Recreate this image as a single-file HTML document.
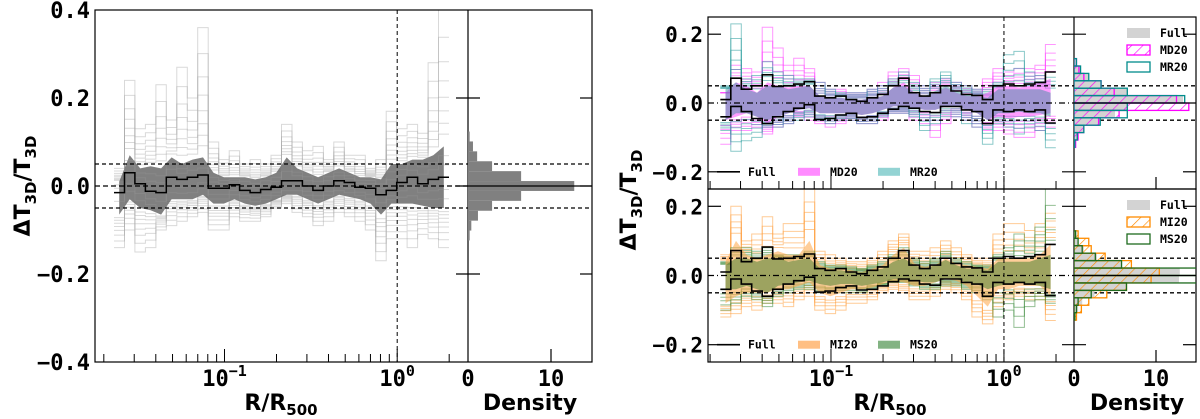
<!DOCTYPE html>
<html><head><meta charset="utf-8"><style>
html,body{margin:0;padding:0;background:#fff;}
svg{display:block;}
.tk{font-family:"DejaVu Sans Mono","Liberation Mono",monospace;font-weight:bold;}
.lb{font-family:"DejaVu Sans","Liberation Sans",sans-serif;font-weight:bold;}
</style></head><body>
<svg id="fig" width="1200" height="419" viewBox="0 0 1200 419" xmlns="http://www.w3.org/2000/svg">
<defs>
<pattern id="hatchM" patternUnits="userSpaceOnUse" width="8" height="8" patternTransform="rotate(45)"><line x1="0" y1="0" x2="0" y2="8" stroke="#ff00ff" stroke-width="1.3"/></pattern>
<pattern id="hatchO" patternUnits="userSpaceOnUse" width="8" height="8" patternTransform="rotate(45)"><line x1="0" y1="0" x2="0" y2="8" stroke="#ff8c00" stroke-width="1.3"/></pattern>
<clipPath id="cL"><rect x="95" y="10" width="373" height="352"/></clipPath>
<clipPath id="cLH"><rect x="468" y="10" width="124" height="352"/></clipPath>
<clipPath id="cT"><rect x="708" y="17" width="366" height="172"/></clipPath>
<clipPath id="cB"><rect x="708" y="189" width="366" height="173"/></clipPath>
<clipPath id="cTH"><rect x="1074" y="17" width="122" height="172"/></clipPath>
<clipPath id="cBH"><rect x="1074" y="189" width="122" height="173"/></clipPath>
</defs>
</svg>
<script>
// ---- data ----
const binLogLo = -1.64, binLogHi = 0.30, nBins = 32;
// left panel
const leftMedian = [-0.015,0.03,0.005,-0.012,-0.015,0.02,0.015,0.02,0.025,-0.005,-0.005,0.003,-0.01,-0.015,-0.008,-0.003,0.012,0.012,0.0,-0.01,0.0,0.012,0.008,-0.003,-0.005,-0.02,-0.01,0.008,0.02,0.005,0.015,0.02];
const leftBandHi = [0.01,0.07,0.04,0.045,0.04,0.065,0.05,0.06,0.065,0.03,0.02,0.02,0.02,0.015,0.02,0.03,0.065,0.04,0.03,0.02,0.03,0.04,0.03,0.02,0.02,0.015,0.05,0.05,0.06,0.06,0.07,0.09];
const leftBandLo = [-0.065,-0.03,-0.05,-0.055,-0.065,-0.03,-0.03,-0.03,-0.02,-0.04,-0.04,-0.03,-0.04,-0.045,-0.04,-0.03,-0.02,-0.02,-0.03,-0.04,-0.03,-0.02,-0.025,-0.03,-0.04,-0.065,-0.04,-0.04,-0.04,-0.045,-0.05,-0.05];
const leftOuterHi = [0.04,0.24,0.13,0.14,0.23,0.15,0.27,0.2,0.36,0.1,0.06,0.08,0.05,0.06,0.05,0.07,0.14,0.1,0.08,0.09,0.06,0.1,0.07,0.07,0.04,0.06,0.17,0.13,0.14,0.12,0.28,0.4];
const leftOuterLo = [-0.14,-0.1,-0.15,-0.14,-0.1,-0.09,-0.08,-0.07,-0.06,-0.1,-0.1,-0.07,-0.08,-0.08,-0.07,-0.05,-0.04,-0.06,-0.07,-0.09,-0.08,-0.06,-0.07,-0.08,-0.1,-0.17,-0.12,-0.12,-0.14,-0.11,-0.12,-0.14];
const leftHistCenters = [-0.1125,-0.09,-0.0675,-0.045,-0.0225,0,0.0225,0.045,0.0675,0.09,0.1125];
const leftHistValues = [0.2,0.4,1.2,2.9,6.4,12.8,6.4,2.9,1.1,0.6,0.2];
// right panels: Full band edges
const fullHi = [0.01,0.072,0.04,0.05,0.082,0.048,0.05,0.055,0.062,0.02,0.015,0.02,0.01,0.005,0.015,0.025,0.05,0.072,0.03,0.02,0.03,0.05,0.035,0.025,0.022,0.01,0.05,0.055,0.05,0.055,0.06,0.09];
const fullLo = [-0.04,-0.01,-0.025,-0.045,-0.06,-0.04,-0.025,-0.015,-0.005,-0.048,-0.045,-0.035,-0.03,-0.042,-0.04,-0.03,-0.018,-0.01,-0.015,-0.025,-0.028,-0.01,-0.01,-0.02,-0.025,-0.06,-0.02,-0.025,-0.02,-0.025,-0.02,-0.058];
// top: MD20 / MR20
const mdHi = [0.03,0.06,0.05,0.03,0.06,0.05,0.045,0.05,0.05,0.02,0.015,0.015,0.01,0.01,0.015,0.02,0.045,0.06,0.03,0.02,0.03,0.045,0.03,0.02,0.02,0.03,0.05,0.05,0.045,0.05,0.06,0.07];
const mdLo = [-0.05,-0.04,-0.03,-0.04,-0.06,-0.04,-0.03,-0.02,-0.015,-0.03,-0.03,-0.03,-0.03,-0.035,-0.03,-0.02,-0.01,-0.01,-0.015,-0.02,-0.02,-0.01,-0.01,-0.02,-0.03,-0.05,-0.04,-0.045,-0.04,-0.04,-0.035,-0.03];
const mrHi = [0.04,0.06,0.04,0.03,0.05,0.05,0.04,0.045,0.05,0.02,0.015,0.015,0.01,0.01,0.015,0.02,0.045,0.05,0.03,0.02,0.035,0.05,0.035,0.025,0.02,0.015,0.04,0.04,0.04,0.04,0.04,0.03];
const mrLo = [-0.05,-0.03,-0.03,-0.04,-0.05,-0.04,-0.03,-0.02,-0.015,-0.03,-0.03,-0.03,-0.03,-0.035,-0.03,-0.02,-0.01,-0.01,-0.015,-0.02,-0.02,-0.01,-0.01,-0.02,-0.03,-0.05,-0.03,-0.03,-0.025,-0.03,-0.03,-0.04];
const mdMax = [0.03,0.11,0.1,0.09,0.22,0.16,0.11,0.13,0.1,0.06,0.04,0.04,0.03,0.03,0.04,0.06,0.09,0.1,0.08,0.05,0.06,0.07,0.06,0.05,0.04,0.07,0.1,0.09,0.1,0.1,0.11,0.17];
const mdMin = [-0.12,-0.08,-0.08,-0.07,-0.09,-0.07,-0.06,-0.04,-0.05,-0.06,-0.07,-0.06,-0.05,-0.06,-0.06,-0.05,-0.03,-0.03,-0.05,-0.06,-0.1,-0.06,-0.04,-0.05,-0.07,-0.08,-0.08,-0.09,-0.1,-0.1,-0.08,-0.07];
const mrMax = [0.05,0.23,0.07,0.08,0.12,0.09,0.08,0.07,0.07,0.06,0.04,0.03,0.03,0.03,0.04,0.05,0.07,0.09,0.06,0.05,0.07,0.09,0.06,0.05,0.04,0.04,0.06,0.14,0.15,0.09,0.08,0.09];
const mrMin = [-0.08,-0.14,-0.11,-0.1,-0.07,-0.07,-0.06,-0.05,-0.04,-0.05,-0.06,-0.05,-0.05,-0.06,-0.06,-0.04,-0.03,-0.03,-0.04,-0.08,-0.06,-0.04,-0.04,-0.06,-0.07,-0.12,-0.06,-0.07,-0.09,-0.07,-0.08,-0.13];
// bottom: MI20 / MS20
const miHi = [0.04,0.1,0.06,0.05,0.06,0.07,0.06,0.06,0.1,0.03,0.02,0.02,0.015,0.01,0.02,0.03,0.06,0.08,0.035,0.025,0.03,0.05,0.035,0.03,0.025,0.02,0.05,0.05,0.05,0.05,0.06,0.09];
const miLo = [-0.08,-0.06,-0.05,-0.05,-0.05,-0.04,-0.04,-0.03,-0.02,-0.05,-0.06,-0.05,-0.04,-0.04,-0.035,-0.025,-0.015,-0.02,-0.03,-0.03,-0.02,-0.01,-0.015,-0.03,-0.06,-0.09,-0.04,-0.04,-0.03,-0.03,-0.03,-0.06];
const msHi = [0.03,0.05,0.05,0.04,0.05,0.05,0.04,0.045,0.05,0.02,0.015,0.015,0.01,0.01,0.015,0.02,0.04,0.05,0.03,0.02,0.03,0.045,0.03,0.02,0.02,0.015,0.04,0.04,0.04,0.04,0.05,0.06];
const msLo = [-0.04,-0.04,-0.03,-0.04,-0.05,-0.03,-0.025,-0.02,-0.015,-0.025,-0.03,-0.025,-0.025,-0.03,-0.025,-0.02,-0.01,-0.01,-0.015,-0.02,-0.02,-0.01,-0.01,-0.02,-0.025,-0.04,-0.03,-0.025,-0.02,-0.025,-0.03,-0.04];
const miMax = [0.06,0.2,0.1,0.12,0.17,0.12,0.15,0.15,0.25,0.07,0.06,0.05,0.04,0.04,0.05,0.07,0.1,0.12,0.07,0.07,0.08,0.1,0.08,0.06,0.05,0.05,0.12,0.15,0.15,0.13,0.15,0.18];
const miMin = [-0.12,-0.11,-0.09,-0.1,-0.08,-0.08,-0.09,-0.07,-0.06,-0.1,-0.11,-0.1,-0.08,-0.08,-0.07,-0.05,-0.04,-0.05,-0.07,-0.07,-0.06,-0.04,-0.05,-0.07,-0.12,-0.14,-0.09,-0.07,-0.06,-0.07,-0.07,-0.13];
const msMax = [0.04,0.08,0.08,0.07,0.08,0.06,0.06,0.06,0.07,0.04,0.03,0.03,0.025,0.02,0.03,0.04,0.06,0.08,0.05,0.04,0.05,0.07,0.05,0.04,0.03,0.03,0.06,0.08,0.12,0.1,0.14,0.25];
const msMin = [-0.1,-0.08,-0.06,-0.07,-0.09,-0.06,-0.05,-0.04,-0.04,-0.05,-0.05,-0.05,-0.05,-0.05,-0.04,-0.03,-0.02,-0.02,-0.03,-0.04,-0.04,-0.03,-0.03,-0.04,-0.05,-0.07,-0.12,-0.1,-0.15,-0.09,-0.07,-0.08];
// right histograms
const rHistCenters = [-0.1183,-0.0968,-0.0753,-0.0538,-0.0323,-0.0108,0.0108,0.0323,0.0538,0.0753,0.0968,0.1183];
const topFullHist = [0.2,0.5,1.2,3.2,5,6.5,13.3,6.5,3.3,1.8,0.8,0.3];
const topMDHist = [0.2,0.5,1.2,3,5.5,14,12.5,4.9,3.3,1.2,0.6,0.3];
const topMRHist = [0.1,0.4,1.2,3.2,6.5,6.5,13.5,6.5,3.3,1.8,0.8,0.3];
const botFullHist = [0.2,0.5,1,2.5,6.4,12.8,12.9,5.8,2.8,1.2,0.5,0.2];
const botMIHist = [0.3,0.9,1.8,4,6.4,9.4,10.4,7,3.8,2.1,1.8,0.5];
const botMSHist = [0.1,0.3,0.5,2.1,6.4,15.5,16,5.8,2.6,1,0.5,0.2];
const yTicksLeft = [0.4,0.2,0.0,-0.2,-0.4];
const yTicksRight = [0.2,0.0,-0.2];
const densTicks = [0,10];

// ---- drawing ----
const NS = "http://www.w3.org/2000/svg";
const svg = document.getElementById('fig');
function mk(tag, attrs, parent){ const e=document.createElementNS(NS,tag); for(const k in attrs) e.setAttribute(k,attrs[k]); (parent||svg).appendChild(e); return e; }
function grp(name, clip){ const g=mk('g', clip?{'clip-path':'url(#'+clip+')'}:{});
  
  
  return g; }

const LP = {x0:95,x1:468,y0:10,y1:362,ymin:-0.4,ymax:0.4,lmin:-1.75,lmax:0.41};
const TP = {x0:708,x1:1074,y0:17,y1:189,ymin:-0.25,ymax:0.25,lmin:-1.711,lmax:0.405};
const BP = {x0:708,x1:1074,y0:189,y1:362,ymin:-0.25,ymax:0.25,lmin:-1.711,lmax:0.405};
const LH = {x0:468,x1:592,dmax:(592-468)/8.3};
const TH = {x0:1074,x1:1196,dmax:(1196-1074)/8.2};
function fx(p,l){ return p.x0+(l-p.lmin)/(p.lmax-p.lmin)*(p.x1-p.x0); }
function fy(p,v){ return p.y1-(v-p.ymin)/(p.ymax-p.ymin)*(p.y1-p.y0); }
function fd(h,d){ return h.x0+d/h.dmax*(h.x1-h.x0); }
const edges = []; for(let i=0;i<=nBins;i++) edges.push(binLogLo+(binLogHi-binLogLo)*i/nBins);
const centers = []; for(let i=0;i<nBins;i++) centers.push((edges[i]+edges[i+1])/2);

function stepPath(p, vals){
  let d='';
  vals.forEach((v,i)=>{ const y=fy(p,v).toFixed(1); d+=(i?'L':'M')+fx(p,edges[i]).toFixed(1)+','+y+'L'+fx(p,edges[i+1]).toFixed(1)+','+y; });
  return d;
}
function bandPath(p, hi, lo){
  let d='';
  hi.forEach((v,i)=>{ d+=(i?'L':'M')+fx(p,centers[i]).toFixed(1)+','+fy(p,v).toFixed(1); });
  for(let i=lo.length-1;i>=0;i--) d+='L'+fx(p,centers[i]).toFixed(1)+','+fy(p,lo[i]).toFixed(1);
  return d+'Z';
}
function blend(a,b,f){ return a.map((v,i)=>b[i]+(v-b[i])*f); }
function envelopeLines(g,p,outHi,outLo,bHi,bLo,color,op,name,fracs){
  fracs.forEach(f=>{
    [blend(outHi,bHi,f),blend(outLo,bLo,f)].forEach(vals=>{
      const e=mk('path',{d:stepPath(p,vals),fill:'none',stroke:color,'stroke-width':1,'stroke-opacity':op},g);
      
      
    });
  });
}
function txt(x,y,s,cls,size,anchor,name,parent){
  const t=mk('text',{x:x,y:y,'class':cls,'font-size':size,'text-anchor':anchor||'middle',fill:'#000'},parent);
  t.textContent=s;
  
  
  return t;
}
function line(x1,y1,x2,y2,w,dash,parent,color){ return mk('line',{x1:x1,y1:y1,x2:x2,y2:y2,stroke:color||'#000','stroke-width':w,'stroke-dasharray':dash||'none'},parent); }

function xTicks(p,g){
  for(let e=-2;e<=0;e++) for(let m=1;m<=9;m++){
    const l=e+Math.log10(m); if(l<p.lmin||l>p.lmax) continue;
    const x=fx(p,l); line(x,p.y1,x,p.y1-(m===1?13:8),1,null,g);
  }
}
function xTickLabels(p,g,y){
  [-1,0].forEach(e=>{
    const t=txt(fx(p,e),y,'10','tk',22,'middle','x-tick-label',g);
    const s=mk('tspan',{dy:-10,'font-size':15},t); s.textContent=e<0?'−1':'0';
  });
}
function xTitle(x,g){
  const t=txt(x,410,'R/R','lb',22,'middle','x-axis-title',g);
  const s=mk('tspan',{dy:5,'font-size':15},t); s.textContent='500';
}
function yTitle(x,y,g){
  const yl=txt(0,0,'ΔT','lb',22,'middle','y-axis-title',g); yl.setAttribute('transform','translate('+x+','+y+') rotate(-90)');
  [['3D',6],['/T',-6],['3D',6]].forEach(([s,dy],i)=>{ const t=mk('tspan',{dy:dy,'font-size':i===1?22:15},yl); t.textContent=s; });
}
function hist(g,h,p,centersArr,vals,width,style,name){
  vals.forEach((v,i)=>{
    const yt=fy(p,centersArr[i]+width/2), yb=fy(p,centersArr[i]-width/2);
    const r=mk('rect',Object.assign({x:h.x0,y:yt,width:Math.max(0,fd(h,v)-h.x0),height:yb-yt},style),g);
    
    
  });
}

// ===== LEFT =====
{
  const g=grp('left-main-plot','cL');
  envelopeLines(g,LP,leftOuterHi,leftOuterLo,leftBandHi,leftBandLo,'#aaa',0.45,'individual-profile',[1,0.8,0.62,0.48,0.36,0.26,0.17,0.09]);
  const b=mk('path',{d:bandPath(LP,leftBandHi,leftBandLo),fill:'#606060','fill-opacity':0.8},g);
  
  
  envelopeLines(g,LP,leftBandHi,leftBandLo,leftMedian,leftMedian,'#999',0.35,'inner-profile',[0.7,0.4]);
  line(LP.x0,fy(LP,0.05),LH.x1,fy(LP,0.05),1.3,'4,3',svg);
  line(LP.x0,fy(LP,-0.05),LH.x1,fy(LP,-0.05),1.3,'4,3',svg);
  line(LP.x0,fy(LP,0),LP.x1,fy(LP,0),1.2,'5,3',g);
  const m=mk('path',{d:stepPath(LP,leftMedian),fill:'none',stroke:'#000','stroke-width':1.5},g);
  
  
  line(fx(LP,0),LP.y0,fx(LP,0),LP.y1,1,'4,3',g);
  const ax=grp('left-axes');
  mk('rect',{x:LP.x0,y:LP.y0,width:LH.x1-LP.x0,height:LP.y1-LP.y0,fill:'none',stroke:'#000','stroke-width':1.2},ax);
  line(LP.x1,LP.y0,LP.x1,LP.y1,1.2,null,ax);
  xTicks(LP,ax); xTickLabels(LP,ax,386);
  yTicksLeft.forEach(v=>{ const y=fy(LP,v); txt(90,y+8,(v<0?'−':'')+Math.abs(v).toFixed(1),'tk',22,'end','y-tick-label',ax);
    if(Math.abs(v)<0.39){ line(LP.x1-12,y,LP.x1+12,y,1.2,null,ax); line(LH.x1-12,y,LH.x1,y,1.2,null,ax);} });
  xTitle(281,ax);
  yTitle(30,186,ax);
  const hg=grp('left-density-hist','cLH');
  hist(hg,LH,LP,leftHistCenters,leftHistValues,0.0225,{fill:'#808080'},'hist-bar');
  line(LH.x0,fy(LP,0),LH.x1,fy(LP,0),1.3,null,hg);
  densTicks.forEach(d=>{ const x=fd(LH,d); if(d>0) line(x,LP.y1,x,LP.y1-13,1.2,null,ax); txt(x,386,String(d),'tk',22,'middle','density-tick-label',ax); });
  txt(530,410,'Density','lb',22,'middle','density-axis-title',ax);
}

// ===== RIGHT =====
function rightPanel(p, clip, hclip, name, A, B, fillA, fillB, histFull, histA, histB, hatch, labA, labB, legA, legB, strokeA, strokeB, lightA, lightB){
  const g=grp(name+'-plot',clip);
  envelopeLines(g,p,A.max,A.min,A.hi,A.lo,lightA,0.55,labA+'-profile',[1,0.75,0.55,0.38,0.22]);
  envelopeLines(g,p,B.max,B.min,B.hi,B.lo,lightB,0.55,labB+'-profile',[1,0.75,0.55,0.38,0.22]);
  const ba=mk('path',{d:bandPath(p,A.hi,A.lo),fill:fillA},g);
  
  
  const bb=mk('path',{d:bandPath(p,B.hi,B.lo),fill:fillB},g);
  
  
  const f1=mk('path',{d:stepPath(p,fullHi),fill:'none',stroke:'#000','stroke-width':1.6},g);
  
  
  const f2=mk('path',{d:stepPath(p,fullLo),fill:'none',stroke:'#000','stroke-width':1.6},g);
  
  
  line(p.x0,fy(p,0),p.x1,fy(p,0),1.2,'6,3,1,3',g);
  line(fx(p,0),p.y0,fx(p,0),p.y1,1,'4,3',g);
  line(p.x0,fy(p,0.05),TH.x1,fy(p,0.05),1.3,'4,3',svg);
  line(p.x0,fy(p,-0.05),TH.x1,fy(p,-0.05),1.3,'4,3',svg);
  const ax=grp(name+'-axes');
  mk('rect',{x:p.x0,y:p.y0,width:TH.x1-p.x0,height:p.y1-p.y0,fill:'none',stroke:'#000','stroke-width':1.2},ax);
  line(p.x1,p.y0,p.x1,p.y1,1.2,null,ax);
  xTicks(p,ax);
  yTicksRight.forEach(v=>{ const y=fy(p,v); txt(703,y+8,(v<0?'−':'')+Math.abs(v).toFixed(1),'tk',21,'end','y-tick-label',ax);
    if(v!==0){ line(p.x0,y,p.x0+13,y,1.2,null,ax); line(p.x1-12,y,p.x1+12,y,1.2,null,ax); line(TH.x1-13,y,TH.x1,y,1.2,null,ax);} });
  const lg=grp(name+'-legend');
  const ly=fy(p,-0.2);
  line(717,ly,740,ly,1.6,null,lg); txt(748,ly+4,'Full','tk',11.5,'start','legend-full',lg);
  mk('rect',{x:798,y:ly-4,width:22,height:8,fill:legA},lg); txt(830,ly+4,labA,'tk',11.5,'start','legend-'+labA.toLowerCase(),lg);
  mk('rect',{x:878,y:ly-4,width:22,height:8,fill:legB},lg); txt(910,ly+4,labB,'tk',11.5,'start','legend-'+labB.toLowerCase(),lg);
  const hg=grp(name+'-density-hist',hclip);
  hist(hg,TH,p,rHistCenters,histFull,0.0215,{fill:'#d3d3d3'},'hist-full');
  hist(hg,TH,p,rHistCenters,histA,0.0215,{fill:'url(#'+hatch+')',stroke:strokeA,'stroke-width':1.3},'hist-'+labA.toLowerCase());
  hist(hg,TH,p,rHistCenters,histB,0.0215,{fill:'none',stroke:strokeB,'stroke-width':1.3},'hist-'+labB.toLowerCase());
  line(TH.x0,fy(p,0),TH.x1,fy(p,0),1.3,null,hg);
  line(fd(TH,10),p.y1,fd(TH,10),p.y1-12,1.2,null,ax);
  const hl=grp(name+'-hist-legend');
  const y0=p.y0+16;
  mk('rect',{x:1127,y:y0-5,width:23,height:10,fill:'#d3d3d3'},hl); txt(1160,y0+4,'Full','tk',11.5,'start','hist-legend-full',hl);
  mk('rect',{x:1127,y:y0+12,width:23,height:10,fill:'url(#'+hatch+')',stroke:strokeA,'stroke-width':1.3},hl); txt(1160,y0+21,labA,'tk',11.5,'start','hist-legend-'+labA.toLowerCase(),hl);
  mk('rect',{x:1127,y:y0+29,width:23,height:10,fill:'none',stroke:strokeB,'stroke-width':1.3},hl); txt(1160,y0+38,labB,'tk',11.5,'start','hist-legend-'+labB.toLowerCase(),hl);
}
rightPanel(TP,'cT','cTH','top-panel',{hi:mdHi,lo:mdLo,max:mdMax,min:mdMin},{hi:mrHi,lo:mrLo,max:mrMax,min:mrMin},
  'rgba(255,60,255,0.5)','rgba(40,140,150,0.45)',topFullHist,topMDHist,topMRHist,'hatchM','MD20','MR20',
  'rgba(255,110,255,0.8)','rgba(120,200,200,0.8)','#ff00ff','#008b8b','#ff40ff','#2a9d9d');
rightPanel(BP,'cB','cBH','bottom-panel',{hi:miHi,lo:miLo,max:miMax,min:miMin},{hi:msHi,lo:msLo,max:msMax,min:msMin},
  'rgba(255,165,70,0.55)','rgba(60,120,40,0.5)',botFullHist,botMIHist,botMSHist,'hatchO','MI20','MS20',
  'rgba(255,175,100,0.8)','rgba(100,160,100,0.8)','#ff8c00','#1e6b1e','#ffa040','#3d8a3d');
{
  const ax=grp('right-shared-axes');
  xTickLabels(TP,ax,386);
  densTicks.forEach(d=>txt(fd(TH,d),386,String(d),'tk',22,'middle','density-tick-label',ax));
  xTitle(890,ax);
  txt(1137,410,'Density','lb',22,'middle','density-axis-title',ax);
  yTitle(636,200,ax);
}
</script>
</body></html>
